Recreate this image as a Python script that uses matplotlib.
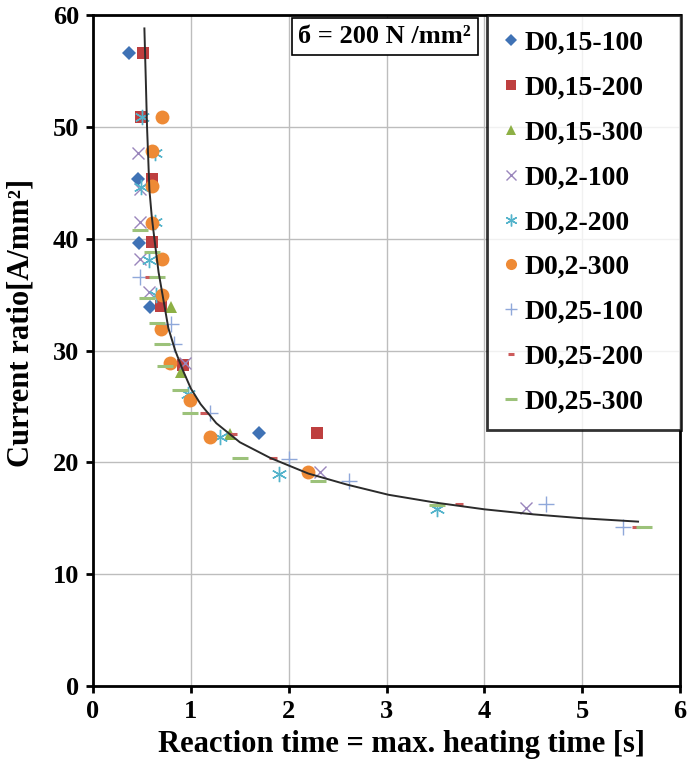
import matplotlib
matplotlib.use("Agg")
import matplotlib.pyplot as plt
from matplotlib.lines import Line2D

plt.rcParams['font.family'] = ['Liberation Serif', 'DejaVu Serif']
plt.rcParams['font.weight'] = 'bold'

# ---- measured series: reaction time [s] vs current ratio [A/mm^2] ----
names = ["D0,15-100", "D0,15-200", "D0,15-300", "D0,2-100", "D0,2-200",
         "D0,2-300", "D0,25-100", "D0,25-200", "D0,25-300"]

d015_100_x = [0.37, 0.46, 0.47, 0.58, 1.70]
d015_100_y = [56.6, 45.3, 39.6, 33.9, 22.6]

d015_200_x = [0.51, 0.49, 0.60, 0.60, 0.69, 0.92, 2.29]
d015_200_y = [56.6, 50.9, 45.3, 39.7, 34.0, 28.7, 22.6]

d015_300_x = [0.80, 0.90, 1.40]
d015_300_y = [33.9, 28.1, 22.5]

d02_100_x = [0.46, 0.48, 0.48, 0.48, 0.57, 0.94, 2.32, 4.42]
d02_100_y = [47.7, 44.4, 41.5, 38.2, 35.2, 28.9, 19.1, 15.9]

d02_200_x = [0.50, 0.63, 0.49, 0.63, 0.57, 0.64, 0.97, 1.30, 1.90, 3.52]
d02_200_y = [50.9, 47.7, 44.6, 41.5, 38.1, 35.0, 26.1, 22.3, 19.0, 15.8]

d02_300_x = [0.70, 0.60, 0.60, 0.60, 0.70, 0.70, 0.69, 0.79, 0.99, 1.20, 2.20]
d02_300_y = [50.9, 47.8, 44.7, 41.4, 38.2, 35.0, 31.9, 28.9, 25.6, 22.3, 19.1]

d025_100_x = [0.48, 0.80, 0.83, 1.20, 2.00, 2.62, 4.63, 5.42]
d025_100_y = [36.6, 32.4, 30.6, 24.4, 20.3, 18.3, 16.3, 14.2]

d025_200_x = [0.57, 1.13, 1.43, 1.84, 3.74, 5.55]
d025_200_y = [36.6, 24.4, 22.5, 20.4, 16.3, 14.2]

d025_300_x = [0.48, 0.60, 0.65, 0.55, 0.65, 0.70, 0.74, 0.89, 0.99, 1.50, 2.30, 3.52, 5.63]
d025_300_y = [40.8, 38.8, 36.6, 34.7, 32.5, 30.6, 28.6, 26.5, 24.4, 20.4, 18.3, 16.2, 14.2]

# fitted trend curve through the measurements
trend_x = [0.525, 0.540, 0.552, 0.565, 0.576, 0.60, 0.627, 0.67, 0.72, 0.77, 0.84,
           0.92, 1.00, 1.10, 1.26, 1.50, 1.81, 2.20, 2.60, 3.02, 3.50, 4.00,
           4.50, 5.00, 5.57]
trend_y = [58.8, 54.0, 50.0, 47.0, 44.4, 42.0, 40.0, 37.0, 34.5, 32.0, 30.0,
           28.2, 26.6, 25.2, 23.5, 21.8, 20.4, 19.0, 18.0, 17.1, 16.4, 15.8,
           15.35, 15.0, 14.7]

xs = [d015_100_x, d015_200_x, d015_300_x, d02_100_x, d02_200_x,
      d02_300_x, d025_100_x, d025_200_x, d025_300_x]
ys = [d015_100_y, d015_200_y, d015_300_y, d02_100_y, d02_200_y,
      d02_300_y, d025_100_y, d025_200_y, d025_300_y]

styles = [
    dict(marker='D', color='#3F72B5', ms=7.5, mew=0),
    dict(marker='s', color='#BE3F3F', ms=9, mew=0),
    dict(marker='^', color='#8DB045', ms=9, mew=0),
    dict(marker='x', color='#9A86BC', ms=9, mew=1.0),
    dict(marker=(6, 2, 0), color='#53B3CB', ms=11, mew=1.0),
    dict(marker='o', color='#EE8A35', ms=10, mew=0),
    dict(marker='+', color='#8FA8DA', ms=12, mew=1.0),
    dict(marker='_', color='#CC5A5A', ms=6, mew=2.2),
    dict(marker='_', color='#9CC27A', ms=11, mew=2.2),
]

fig = plt.figure(figsize=(6.87, 7.69), dpi=100)
ax = fig.add_axes([0.1354, 0.1079, 0.8546, 0.8726])

ax.set_xlim(0, 6)
ax.set_ylim(0, 60)
ax.set_xticks(range(0, 7))
ax.set_yticks(range(0, 61, 10))
ax.grid(True, color='#BDBDBD', linewidth=1.0)
ax.set_axisbelow(True)

for x, y, st in zip(xs, ys, styles):
    ax.plot(x, y, linestyle='none', marker=st['marker'], color=st['color'],
            markersize=st['ms'], markeredgewidth=st['mew'], zorder=3)

ax.plot(trend_x, trend_y, color='#2B2B2B', linewidth=1.4, zorder=4)

for s in ax.spines.values():
    s.set_linewidth(2.0)
    s.set_color('black')

ax.tick_params(axis='both', direction='out', length=5, width=2,
               labelsize=19, pad=5)
for lab in ax.get_xticklabels() + ax.get_yticklabels():
    lab.set_fontweight('bold')

ax.set_xlabel('Reaction time = max. heating time [s]', fontsize=22,
              fontweight='bold')
ax.set_ylabel('Current ratio[A/mm²]', fontsize=22, fontweight='bold')
ax.xaxis.set_label_coords(0.525, -0.066)
ax.yaxis.set_label_coords(-0.098, 0.541)

# legend with small markers
handles = []
leg_sizes = [6, 7.5, 7.5, 7.5, 8.5, 8, 9, 5, 9]
for st, ls in zip(styles, leg_sizes):
    handles.append(Line2D([], [], linestyle='none', marker=st['marker'],
                          color=st['color'], markersize=ls,
                          markeredgewidth=st['mew'] if st['mew'] else 0))
leg = ax.legend(handles, names, loc='upper left',
                bbox_to_anchor=(0.671, 1.0, 0.33, 0.0), mode='expand',
                prop={'family': 'Liberation Serif', 'weight': 'bold', 'size': 20},
                frameon=True, fancybox=False, edgecolor='black',
                borderpad=0.55, labelspacing=0.70, handlelength=0.6,
                handletextpad=0.2, borderaxespad=0.0)
leg.get_frame().set_linewidth(2.0)
leg.set_zorder(6)

ax.text(0.497, 0.968, 'б = 200 N /mm²', transform=ax.transAxes,
        ha='center', va='center', fontsize=19, fontweight='bold',
        bbox=dict(boxstyle='square,pad=0.25', facecolor='white',
                  edgecolor='black', linewidth=1.2), zorder=6)

fig.savefig('out.png', dpi=100)
